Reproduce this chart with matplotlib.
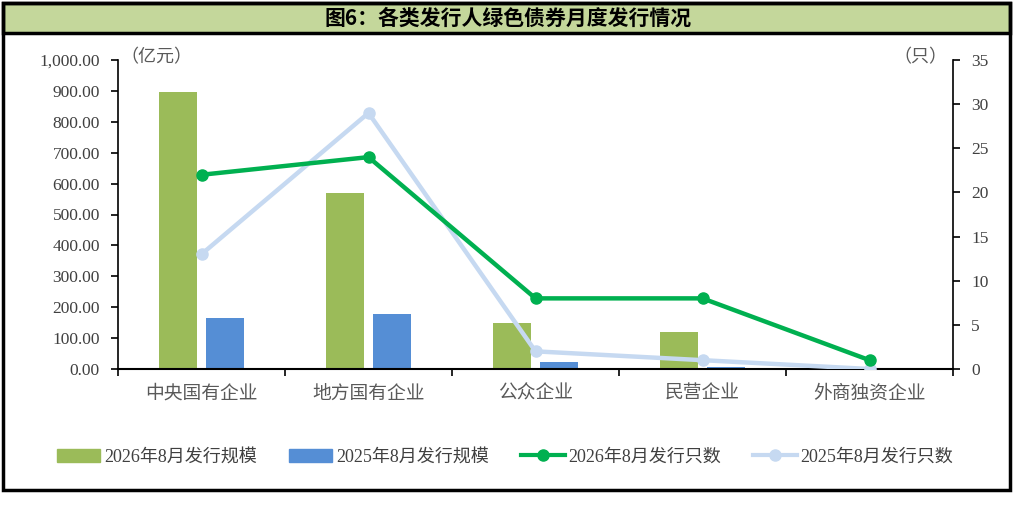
import matplotlib
matplotlib.use("Agg")
import matplotlib.pyplot as plt
from matplotlib.patches import Rectangle
from matplotlib.lines import Line2D
from matplotlib.ticker import FuncFormatter, MultipleLocator
import numpy as np

plt.rcParams['font.family'] = ['Liberation Serif', 'Noto Sans CJK SC', 'DejaVu Sans']

categories = ["中央国有企业", "地方国有企业", "公众企业", "民营企业", "外商独资企业"]
scale_2026 = [896, 570, 149, 120, 0]
scale_2025 = [165, 178, 22, 6, 0]
count_2026 = [22, 24, 8, 8, 1]
count_2025 = [13, 29, 2, 1, 0]
title = "图6：各类发行人绿色债券月度发行情况"
labels = ["2026年8月发行规模", "2025年8月发行规模", "2026年8月发行只数", "2025年8月发行只数"]

c_bar1 = "#9bbb59"
c_bar2 = "#558ed5"
c_line1 = "#00b050"
c_line2 = "#c6d9f1"
txt = "#404040"
W, H = 1016, 525
fig = plt.figure(figsize=(W/100, H/100), dpi=100)

def fx(px): return px / W
def fy(py): return 1 - py / H

# outer border and title band
fig.patches.append(Rectangle((fx(3), fy(490)), fx(1010) - fx(3), fy(3) - fy(490),
                             transform=fig.transFigure, fill=False, edgecolor="black", lw=2.5, zorder=10))
fig.patches.append(Rectangle((fx(3), fy(33)), fx(1010) - fx(3), fy(3) - fy(33),
                             transform=fig.transFigure, facecolor="#c4d79b", edgecolor="black", lw=2.5, zorder=9))
fig.text(0.5, fy(18), title, ha="center", va="center", fontsize=15, fontweight="bold",
         family=['Noto Sans CJK SC'], color="black", zorder=11)

ax = fig.add_axes([fx(118), fy(369), fx(953) - fx(118), fy(60) - fy(369)])
x = np.arange(len(categories))
bw = 0.23
ax.bar(x - 0.14, scale_2026, width=bw, color=c_bar1, zorder=2)
ax.bar(x + 0.14, scale_2025, width=bw, color=c_bar2, zorder=2)
ax.set_xlim(-0.5, len(categories) - 0.5)
ax.set_ylim(0, 1000)
ax.yaxis.set_major_locator(MultipleLocator(100))
ax.yaxis.set_major_formatter(FuncFormatter(lambda v, p: f"{v:,.2f}"))
ax.set_xticks(np.arange(-0.5, len(categories), 1.0))
ax.set_xticklabels([])
ax.set_xticks(x, minor=True)
ax.set_xticklabels(categories, minor=True, color="#595959", fontsize=13.5,
                   family=['Noto Sans CJK SC'], fontweight='light')
ax.tick_params(axis="x", which="minor", length=0, pad=10)
ax.tick_params(axis="x", which="major", length=5, width=1.2, direction="out")
ax.tick_params(axis="y", length=5, width=1.2, direction="out", labelsize=12.5, labelcolor=txt, pad=8)
for s in ["top", "right"]:
    ax.spines[s].set_visible(False)
ax.spines["left"].set_linewidth(1.2)
ax.spines["bottom"].set_linewidth(1.5)

ax2 = ax.twinx()
ax2.plot(x, count_2025, color=c_line2, lw=3.2, marker="o", ms=8, zorder=3, solid_capstyle="round")
ax2.plot(x, count_2026, color=c_line1, lw=3.2, marker="o", ms=8, zorder=4, solid_capstyle="round")
ax2.set_ylim(0, 35)
ax2.yaxis.set_major_locator(MultipleLocator(5))
ax2.tick_params(axis="y", length=5, width=1.2, direction="out", labelsize=12.5, labelcolor=txt, pad=8)
for s in ["top", "left", "bottom"]:
    ax2.spines[s].set_visible(False)
ax2.spines["right"].set_linewidth(1.2)
for a in (ax, ax2):
    for t in a.get_yticklabels():
        t.set_family(['Liberation Serif'])
ax.set_zorder(1)
ax2.set_zorder(2)
ax.patch.set_visible(False)

fig.text(fx(120), fy(57), "（亿元）", ha="left", va="center", fontsize=13, color="#595959",
         family=['Noto Sans CJK SC'], fontweight='light')
fig.text(fx(947), fy(57), "（只）", ha="right", va="center", fontsize=13, color="#595959",
         family=['Noto Sans CJK SC'], fontweight='light')

handles = [Rectangle((0, 0), 1, 1, color=c_bar1), Rectangle((0, 0), 1, 1, color=c_bar2),
           Line2D([], [], color=c_line1, lw=3, marker="o", ms=8),
           Line2D([], [], color=c_line2, lw=3, marker="o", ms=8)]
leg = fig.legend(handles, labels, loc="center", bbox_to_anchor=(fx(505), fy(457)), ncol=4,
                 frameon=False, handlelength=2.4, handletextpad=0.2,
                 columnspacing=1.8, handleheight=0.7,
                 prop=dict(family=['Liberation Serif', 'Noto Sans CJK SC'], size=13))
for t in leg.get_texts():
    t.set_color(txt)

fig.savefig("out.png", dpi=100, facecolor="white")
